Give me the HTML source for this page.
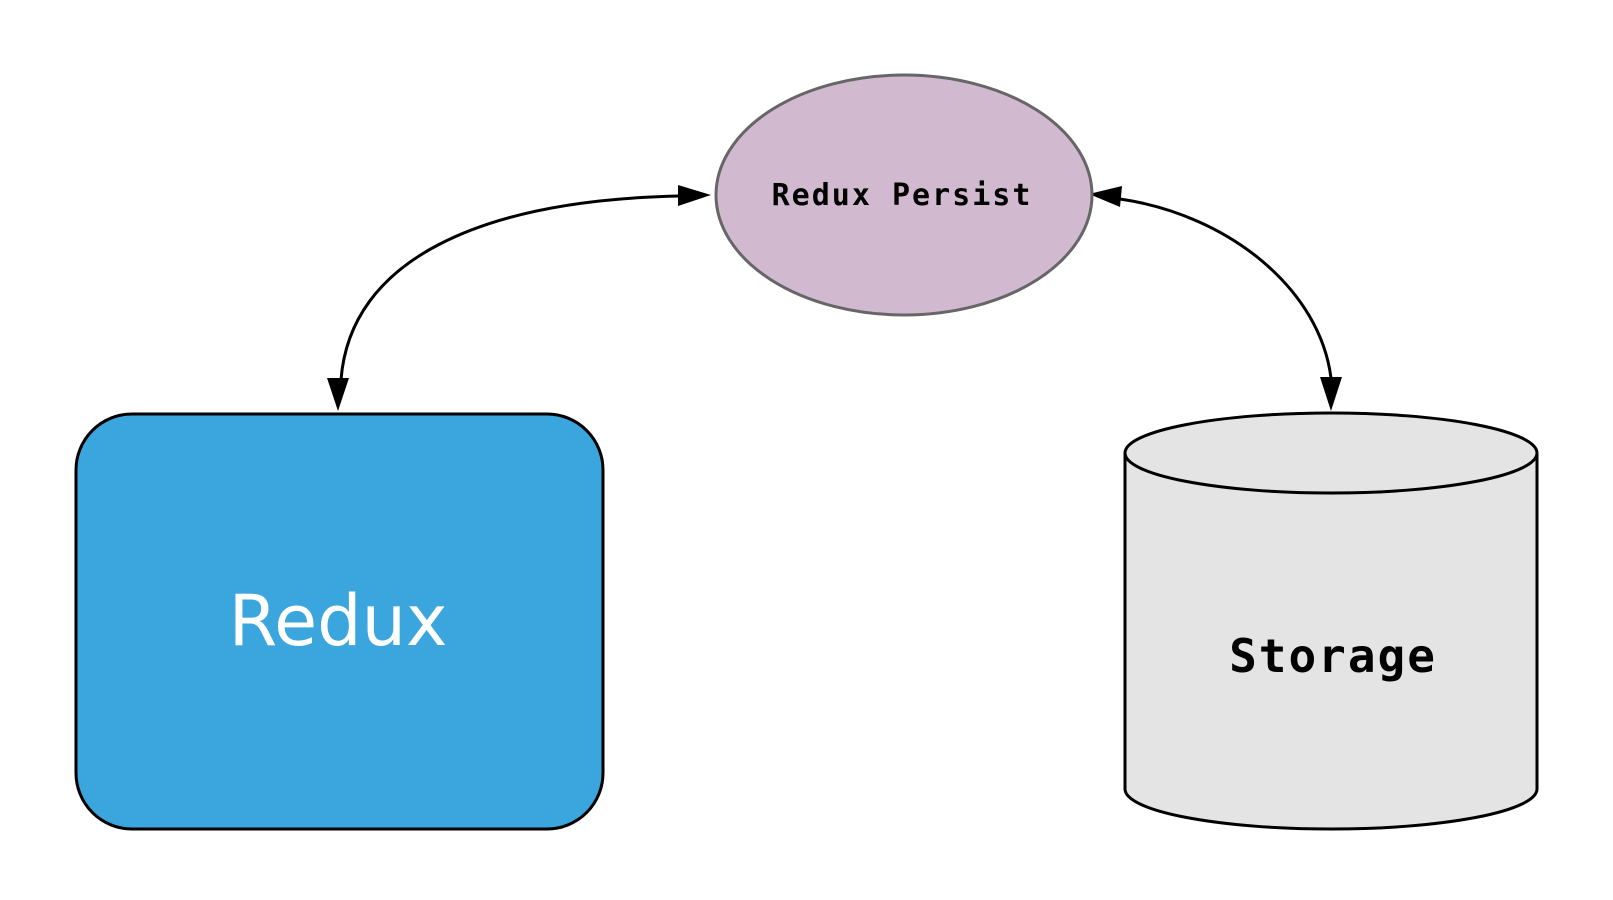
<!DOCTYPE html>
<html><head><meta charset="utf-8"><style>html,body{margin:0;padding:0;background:#fff}svg{display:block}</style></head>
<body>
<svg width="1613" height="900" viewBox="0 0 1613 900" xmlns="http://www.w3.org/2000/svg">
<path d="M341 380 C350 260 480 200 680 196" fill="none" stroke="#000" stroke-width="3"/>
<polygon points="711,195 678,185 678,206" fill="#000"/>
<polygon points="338,411 327,378 349,378" fill="#000"/>
<path d="M1120 199 C1230 215 1320 290 1331 378" fill="none" stroke="#000" stroke-width="3"/>
<polygon points="1089,194 1122,186 1120,207" fill="#000"/>
<polygon points="1331,411 1320,377 1342,377" fill="#000"/>
<ellipse cx="904" cy="195" rx="188" ry="120" fill="#d1b9cf" stroke="#666" stroke-width="3"/>
<text x="902" y="205" text-anchor="middle" font-family="'DejaVu Sans Mono','Liberation Mono',monospace" font-weight="bold" font-size="30" letter-spacing="2">Redux Persist</text>
<rect x="76" y="414" width="527" height="415" rx="56" ry="56" fill="#3ba6de" stroke="#000" stroke-width="3"/>
<text x="338" y="645" text-anchor="middle" font-family="'DejaVu Sans','Liberation Sans',sans-serif" font-size="70" fill="#fff">Redux</text>
<path d="M1125 453 L1125 789 A206 40 0 0 0 1537 789 L1537 453" fill="#e4e4e4" stroke="#000" stroke-width="3"/>
<ellipse cx="1331" cy="453" rx="206" ry="40" fill="#e4e4e4" stroke="#000" stroke-width="3"/>
<text x="1333" y="672" text-anchor="middle" font-family="'DejaVu Sans Mono','Liberation Mono',monospace" font-weight="bold" font-size="46" letter-spacing="2">Storage</text>
</svg>
</body></html>
